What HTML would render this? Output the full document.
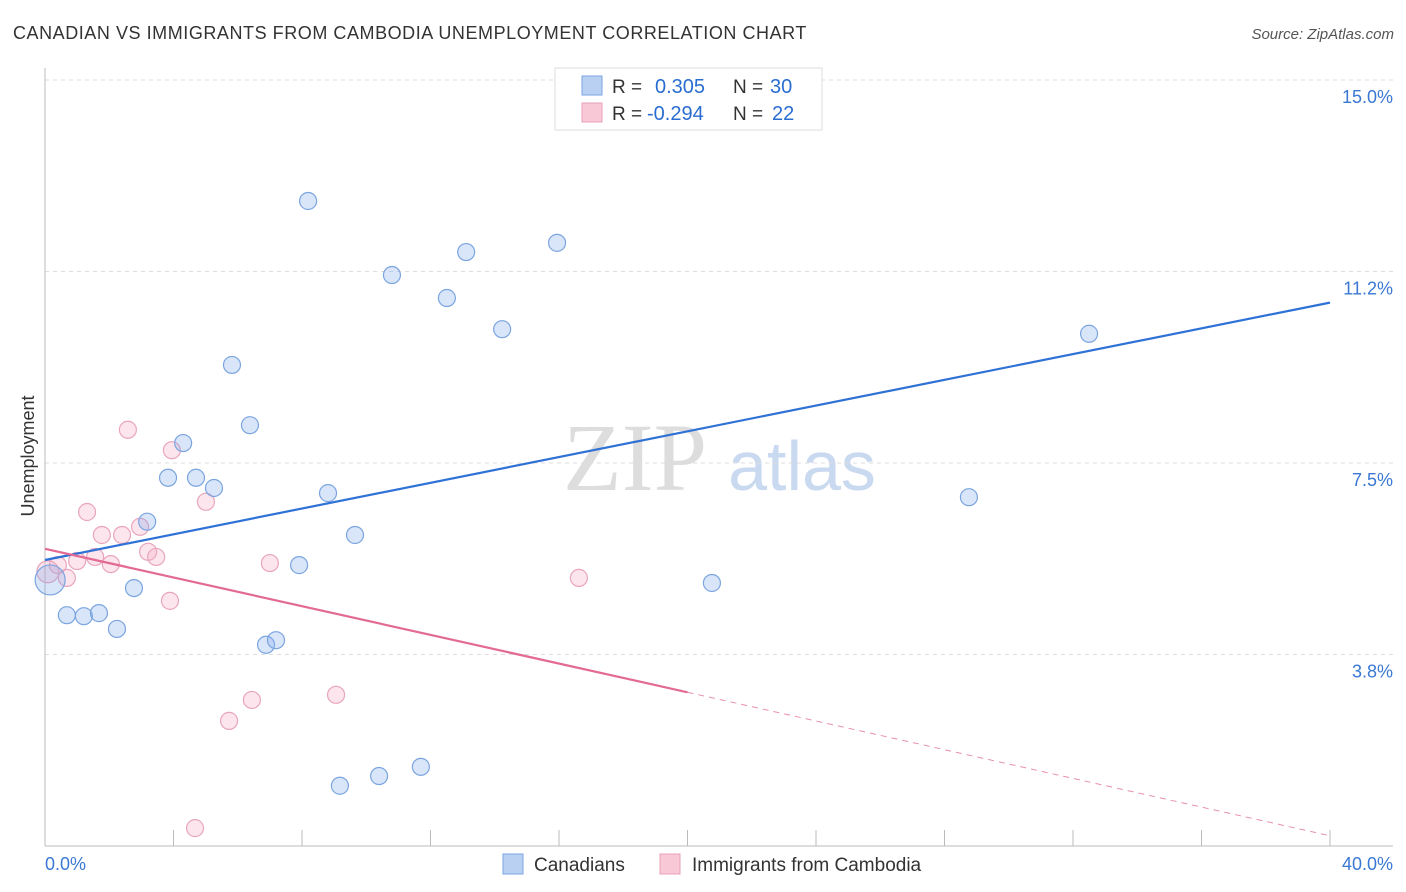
<!DOCTYPE html>
<html><head><meta charset="utf-8"><style>
body{margin:0;background:#fff;font-family:"Liberation Sans",sans-serif;}
#c{position:absolute;left:0;top:0;}
</style></head><body>
<svg id="c" width="1406" height="892" xmlns="http://www.w3.org/2000/svg">
<text x="13" y="39" font-size="18" fill="#333" letter-spacing="0.55" font-family="Liberation Sans, sans-serif">CANADIAN VS IMMIGRANTS FROM CAMBODIA UNEMPLOYMENT CORRELATION CHART</text>
<text x="1394" y="39" font-size="15" fill="#555" text-anchor="end" font-style="italic">Source: ZipAtlas.com</text>
<g>
<text x="635" y="490" font-size="96" fill="#ddd" text-anchor="middle" font-family="Liberation Serif, serif">ZIP</text>
<text x="802" y="490" font-size="70" fill="#c9d9f0" text-anchor="middle">atlas</text>
</g>
<g id="grid"></g>
<g id="axes"></g>
<g id="marks"></g>
<text transform="translate(34,456) rotate(-90)" font-size="18" fill="#333" text-anchor="middle">Unemployment</text>
<g>
<rect x="555" y="68" width="267" height="62" fill="#fff" stroke="#ddd"/>
<rect x="582" y="76" width="20" height="19" fill="#b9d0f2" stroke="#7aa6e0"/>
<rect x="582" y="103" width="20" height="19" fill="#f8c8d6" stroke="#e8a0b8"/>
<text x="612" y="93" font-size="19" fill="#333">R =</text>
<text x="655" y="93" font-size="20" fill="#2a6dd0">0.305</text>
<text x="733" y="93" font-size="19" fill="#333">N =</text>
<text x="770" y="93" font-size="20" fill="#2a6dd0">30</text>
<text x="612" y="120" font-size="19" fill="#333">R =</text>
<text x="647" y="120" font-size="20" fill="#2a6dd0">-0.294</text>
<text x="733" y="120" font-size="19" fill="#333">N =</text>
<text x="772" y="120" font-size="20" fill="#2a6dd0">22</text>
</g>
<g>
<rect x="503" y="854" width="20" height="20" fill="#b9d0f2" stroke="#7aa6e0"/>
<text x="534" y="871" font-size="19" fill="#333">Canadians</text>
<rect x="660" y="854" width="20" height="20" fill="#f8c8d6" stroke="#e8a0b8"/>
<text x="692" y="871" font-size="19" fill="#333">Immigrants from Cambodia</text>
</g>
</svg>
<script>
const yTicks=[15.0,11.25,7.5,3.75];
const yTickLabels=["15.0%","11.2%","7.5%","3.8%"];
const xTickCount=10;
const blueX=[0.16,0.68,1.21,1.68,2.24,2.77,3.18,3.83,4.30,4.70,5.26,5.82,6.38,6.88,7.19,7.91,8.19,8.81,9.18,9.65,10.40,10.80,11.70,12.51,13.11,14.23,15.94,20.76,28.76,32.50];
const blueY=[5.21,4.52,4.50,4.56,4.25,5.05,6.35,7.21,7.89,7.21,7.01,9.42,8.24,3.94,4.03,5.50,12.63,6.91,1.18,6.09,1.37,11.18,1.55,10.73,11.63,10.12,11.81,5.15,6.83,10.03];
const pinkX=[0.09,0.40,0.68,1.00,1.31,1.56,1.77,2.05,2.40,2.58,2.96,3.21,3.46,3.89,3.95,4.67,5.01,5.73,6.44,7.00,9.06,16.62];
const pinkY=[5.37,5.50,5.25,5.58,6.54,5.66,6.09,5.52,6.09,8.15,6.25,5.76,5.66,4.80,7.75,0.35,6.74,2.45,2.86,5.54,2.96,5.25];
const blueTrend=[5.60,10.64];
const pinkTrend=[5.82,0.20];
const pinkSolidEnd=20;
const NS="http://www.w3.org/2000/svg";
const X=v=>45+v/40*1285, Y=v=>846-v*51.07;
function mk(p,t,a){const e=document.createElementNS(NS,t);for(const k in a)e.setAttribute(k,a[k]);p.appendChild(e);return e;}
const grid=document.getElementById('grid'),axes=document.getElementById('axes'),marks=document.getElementById('marks');
yTicks.forEach((v,i)=>{
 const l=mk(grid,'line',{x1:45,x2:1393,y1:Y(v),y2:Y(v),stroke:'#ddd','stroke-dasharray':'4,4'});
 
 
 const t=mk(axes,'text',{x:1393,y:Y(v)+23,'font-size':18,fill:'#3a78d4','text-anchor':'end'});
 t.textContent=yTickLabels[i];
 
 
});
let a=mk(axes,'line',{x1:45,x2:45,y1:68,y2:846,stroke:'#bbb'});


a=mk(axes,'line',{x1:45,x2:1393,y1:846,y2:846,stroke:'#bbb'});


for(let i=0;i<=xTickCount;i++){const x=X(i*40/xTickCount);
 const t=mk(axes,'line',{x1:x,x2:x,y1:830,y2:846,stroke:'#bbb'});
 
 }
[["0.0%",45,'start'],["40.0%",1393,'end']].forEach(d=>{const t=mk(axes,'text',{x:d[1],y:870,'font-size':18,fill:'#3a78d4','text-anchor':d[2]});t.textContent=d[0];
 
 });
function pts(xs,ys,fill,stroke,name){xs.forEach((x,i)=>{const r=(i===0)?(name==='canadian-point'?15:11):8.5;
 const c=mk(marks,'circle',{cx:X(x),cy:Y(ys[i]),r:r,fill:fill,stroke:stroke,'stroke-width':1.2});
 
 });}
pts(pinkX,pinkY,'rgba(244,170,195,0.3)','#e9a5bd','cambodia-point');
pts(blueX,blueY,'rgba(130,170,235,0.3)','#7ba5e0','canadian-point');
let l=mk(marks,'line',{x1:X(0),y1:Y(blueTrend[0]),x2:X(40),y2:Y(blueTrend[1]),stroke:'#2f72d6','stroke-width':2.2});


const pm=pinkTrend[0]+(pinkTrend[1]-pinkTrend[0])*pinkSolidEnd/40;
l=mk(marks,'line',{x1:X(0),y1:Y(pinkTrend[0]),x2:X(pinkSolidEnd),y2:Y(pm),stroke:'#e36a95','stroke-width':2.2});


l=mk(marks,'line',{x1:X(pinkSolidEnd),y1:Y(pm),x2:X(40),y2:Y(pinkTrend[1]),stroke:'#e890ad','stroke-width':1,'stroke-dasharray':'6,5'});


</script>
</body></html>
